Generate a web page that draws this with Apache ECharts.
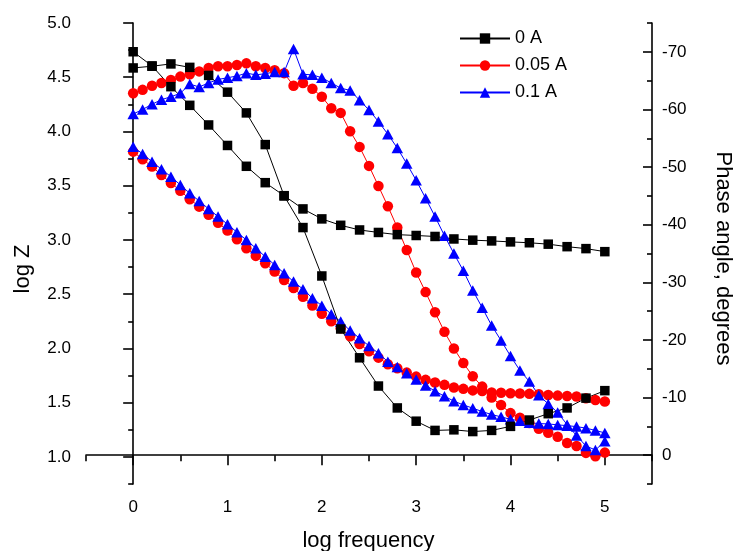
<!DOCTYPE html>
<html>
<head>
<meta charset="utf-8">
<script src="https://cdn.jsdelivr.net/npm/echarts@6/dist/echarts.min.js"></script>
<style>
  html, body { margin: 0; padding: 0; background: #fff; }
  #chart { width: 734px; height: 551px; }
</style>
</head>
<body>
<div id="chart"></div>
<script>
// Bode plot: impedance modulus (left axis) and phase angle (right axis)

// log frequency for the 0 A sweep (0.2 decade steps)
const freqCoarse = [0, 0.2, 0.4, 0.6, 0.8, 1.0, 1.2, 1.4, 1.6, 1.8, 2.0, 2.2, 2.4, 2.6, 2.8,
  3.0, 3.2, 3.4, 3.6, 3.8, 4.0, 4.2, 4.4, 4.6, 4.8, 5.0];

// log frequency for the 0.05 A and 0.1 A sweeps (0.1 decade steps)
const freqFine = [0, 0.1, 0.2, 0.3, 0.4, 0.5, 0.6, 0.7, 0.8, 0.9,
  1.0, 1.1, 1.2, 1.3, 1.4, 1.5, 1.6, 1.7, 1.8, 1.9,
  2.0, 2.1, 2.2, 2.3, 2.4, 2.5, 2.6, 2.7, 2.8, 2.9,
  3.0, 3.1, 3.2, 3.3, 3.4, 3.5, 3.6, 3.7, 3.8, 3.9,
  4.0, 4.1, 4.2, 4.3, 4.4, 4.5, 4.6, 4.7, 4.8, 4.9, 5.0];

// 0 A
const logZ0 = [4.735, 4.604, 4.413, 4.241, 4.060, 3.871, 3.679, 3.528, 3.408, 3.286, 3.194,
  3.135, 3.092, 3.069, 3.049, 3.041, 3.032, 3.009, 2.998, 2.991, 2.982, 2.974, 2.961, 2.938, 2.920, 2.892];
const phase0 = [-67.2, -67.5, -67.9, -67.3, -65.9, -63.0, -59.4, -53.9, -45.0, -39.5, -31.1,
  -21.9, -16.9, -12.0, -8.2, -5.9, -4.3, -4.4, -4.1, -4.3, -5.0, -6.1, -7.2, -8.2, -9.9, -11.2];

// 0.05 A
const logZ005 = [3.814, 3.744, 3.676, 3.599, 3.525, 3.454, 3.375, 3.307, 3.233, 3.159,
  3.086, 3.006, 2.924, 2.853, 2.785, 2.708, 2.631, 2.556, 2.477, 2.396,
  2.320, 2.251, 2.186, 2.112, 2.040, 1.974, 1.915, 1.854, 1.817, 1.777,
  1.740, 1.710, 1.685, 1.664, 1.639, 1.627, 1.613, 1.608, 1.594, 1.592,
  1.587, 1.585, 1.581, 1.578, 1.571, 1.565, 1.562, 1.556, 1.541, 1.525, 1.510];
const phase005 = [-62.8, -63.4, -64.1, -64.6, -65.1, -65.7, -66.1, -66.6, -67.2, -67.5,
  -67.5, -67.7, -68.0, -67.5, -67.2, -66.8, -66.3, -64.1, -64.6, -63.6,
  -62.2, -60.2, -59.4, -56.2, -53.5, -50.2, -46.7, -43.2, -39.5, -35.6,
  -31.7, -28.3, -24.8, -21.4, -18.5, -16.0, -13.7, -11.9, -10.0, -8.7,
  -7.3, -6.5, -5.6, -4.6, -3.9, -3.2, -2.1, -1.6, -0.4, 0.2, -0.45];

// 0.1 A
const logZ01 = [3.860, 3.793, 3.722, 3.652, 3.583, 3.507, 3.430, 3.359, 3.286, 3.215,
  3.145, 3.071, 3.000, 2.924, 2.846, 2.770, 2.693, 2.616, 2.546, 2.463,
  2.394, 2.315, 2.247, 2.164, 2.094, 2.023, 1.956, 1.878, 1.828, 1.772,
  1.714, 1.659, 1.606, 1.559, 1.514, 1.479, 1.449, 1.418, 1.390, 1.369,
  1.346, 1.332, 1.315, 1.307, 1.304, 1.295, 1.288, 1.279, 1.265, 1.244, 1.221];
const phase01 = [-59.2, -60.0, -60.9, -61.7, -62.2, -62.8, -64.4, -63.9, -64.6, -65.2,
  -65.5, -65.8, -66.3, -66.0, -66.2, -66.5, -66.5, -70.5, -66.1, -66.0,
  -65.5, -64.6, -63.7, -63.3, -61.6, -59.9, -57.9, -55.7, -53.3, -50.6,
  -47.7, -44.6, -41.4, -38.1, -35.0, -32.0, -28.6, -25.6, -22.5, -19.9,
  -17.2, -14.7, -12.8, -10.4, -8.9, -7.4, -5.3, -3.4, -1.6, -0.9, -2.4];

// legend entries
const seriesNames = ['0 A', '0.05 A', '0.1 A'];

// tick positions
const xMajorTicks = [0, 1, 2, 3, 4, 5];
const xMinorTicks = [-0.5, 0.5, 1.5, 2.5, 3.5, 4.5, 5.5];
const zMajorTicks = [1.0, 1.5, 2.0, 2.5, 3.0, 3.5, 4.0, 4.5, 5.0];
const zMinorTicks = [0.75, 1.25, 1.75, 2.25, 2.75, 3.25, 3.75, 4.25, 4.75];
const phMajorTicks = [-70, -60, -50, -40, -30, -20, -10, 0];
const phMinorTicks = [-75, -65, -55, -45, -35, -25, -15, -5, 5];

const FONT = '"Liberation Sans", Arial, sans-serif';
const zip = (xs, ys) => xs.map((x, i) => [x, ys[i]]);

const lineAxis = { show: true, lineStyle: { color: '#000', width: 1.6 } };
const tickStyle = { color: '#000', width: 1.6 };
const labelStyle = { color: '#000', fontSize: 17, fontFamily: FONT };

function makeSeries(name, xs, ys, yAxisIndex, symbol, size, color) {
  return {
    name: name,
    type: 'line',
    xAxisIndex: 0,
    yAxisIndex: yAxisIndex,
    data: zip(xs, ys),
    symbol: symbol,
    symbolSize: size,
    showAllSymbol: true,
    itemStyle: { color: color },
    lineStyle: { color: color, width: 1 },
    emphasis: { disabled: true }
  };
}

const chart = echarts.init(document.getElementById('chart'), null, { renderer: 'canvas' });

chart.setOption({
  animation: false,
  backgroundColor: '#fff',
  grid: { left: 86, right: 82, top: 23, bottom: 67, containLabel: false, outerBoundsMode: 'none' },
  legend: {
    orient: 'vertical',
    left: 454,
    top: 24,
    itemWidth: 50,
    itemHeight: 13,
    itemGap: 8,
    data: seriesNames,
    selectedMode: false,
    textStyle: { color: '#000', fontSize: 18, lineHeight: 19, fontFamily: FONT }
  },
  xAxis: [
    {
      type: 'value', min: -0.5, max: 5.5, position: 'bottom',
      axisLine: lineAxis,
      axisTick: { show: true, customValues: xMajorTicks, length: 10, lineStyle: tickStyle },
      axisLabel: Object.assign({ customValues: xMajorTicks, margin: 15 }, labelStyle),
      splitLine: { show: false }
    },
    {
      type: 'value', min: -0.5, max: 5.5, position: 'bottom',
      axisLine: { show: false },
      axisTick: { show: true, customValues: xMinorTicks, length: 6, lineStyle: tickStyle },
      axisLabel: { show: false },
      splitLine: { show: false }
    }
  ],
  yAxis: [
    {
      type: 'value', min: 0.75, max: 5.0, position: 'left',
      axisLine: lineAxis,
      axisTick: { show: true, customValues: zMajorTicks, length: 10, lineStyle: tickStyle },
      axisLabel: Object.assign({ customValues: zMajorTicks, margin: 15,
        formatter: v => Number(v).toFixed(1) }, labelStyle),
      splitLine: { show: false }
    },
    {
      type: 'value', min: 0.75, max: 5.0, position: 'left',
      axisLine: { show: false },
      axisTick: { show: true, customValues: zMinorTicks, length: 5, lineStyle: tickStyle },
      axisLabel: { show: false },
      splitLine: { show: false }
    },
    {
      type: 'value', min: -75, max: 5, inverse: true, position: 'right',
      axisLine: lineAxis,
      axisTick: { show: true, inside: true, customValues: phMajorTicks, length: 9, lineStyle: tickStyle },
      axisLabel: Object.assign({ customValues: phMajorTicks, margin: 10,
        formatter: v => String(v) }, labelStyle),
      splitLine: { show: false }
    },
    {
      type: 'value', min: -75, max: 5, inverse: true, position: 'right',
      axisLine: { show: false },
      axisTick: { show: true, inside: true, customValues: phMinorTicks, length: 5, lineStyle: tickStyle },
      axisLabel: { show: false },
      splitLine: { show: false }
    }
  ],
  graphic: [
    {
      type: 'text', x: 22.5, y: 269, rotation: Math.PI / 2,
      style: { text: 'log Z', fill: '#000', fontSize: 22, fontFamily: FONT, align: 'center', verticalAlign: 'middle' }
    },
    {
      type: 'text', x: 368.5, y: 541,
      style: { text: 'log frequency', fill: '#000', fontSize: 22, fontFamily: FONT, align: 'center', verticalAlign: 'middle' }
    },
    {
      type: 'text', x: 723, y: 258.5, rotation: -Math.PI / 2,
      style: { text: 'Phase angle, degrees', fill: '#000', fontSize: 22, fontFamily: FONT, align: 'center', verticalAlign: 'middle' }
    }
  ],
  series: [
    makeSeries('0.05 A', freqFine, logZ005, 0, 'circle', 10.5, '#ff0000'),
    makeSeries('0.05 A', freqFine, phase005, 2, 'circle', 10.5, '#ff0000'),
    makeSeries('0.1 A', freqFine, logZ01, 0, 'triangle', [11.5, 10.5], '#0000ff'),
    makeSeries('0.1 A', freqFine, phase01, 2, 'triangle', [11.5, 10.5], '#0000ff'),
    makeSeries('0 A', freqCoarse, logZ0, 0, 'rect', 9.5, '#000000'),
    makeSeries('0 A', freqCoarse, phase0, 2, 'rect', 9.5, '#000000')
  ]
});
</script>
</body>
</html>
